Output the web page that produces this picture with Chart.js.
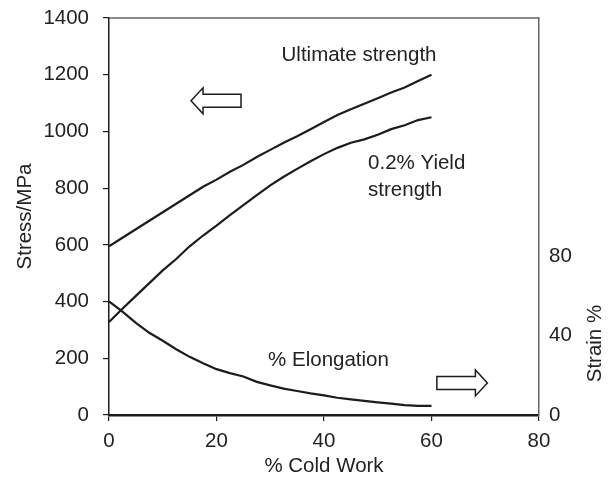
<!DOCTYPE html>
<html>
<head>
<meta charset="utf-8">
<script src="https://cdn.jsdelivr.net/npm/chart.js@4.4.1/dist/chart.umd.min.js"></script>
<style>
  html, body { margin: 0; padding: 0; background: #fff; }
  #wrap { width: 611px; height: 483px; }
</style>
</head>
<body>
<div id="wrap"><canvas id="chart" width="611" height="483"></canvas></div>
<script>
// % cold work (x)
const coldWork = [0, 2.5, 5, 7.5, 10, 12.5, 15, 17.5, 20, 22.5, 25, 27.5, 30,
                  32.5, 35, 37.5, 40, 42.5, 45, 47.5, 50, 52.5, 55, 57.5, 60];

// stress, MPa (left axis)
const ultimateStrength = [595, 625, 655, 685, 715, 745, 775, 805, 830, 858, 882, 910, 935,
                          960, 983, 1008, 1033, 1058, 1078, 1098, 1117, 1137, 1155, 1178, 1200];
const yieldStrength = [328, 375, 420, 465, 510, 550, 595, 633, 668, 705, 740, 775, 810,
                       840, 868, 895, 920, 942, 960, 972, 988, 1008, 1022, 1040, 1050];

// strain % (right axis)
const elongation = [57.3, 52.1, 46.4, 41.4, 37.4, 33.1, 29.3, 26.1, 23.1, 21.1, 19.4, 16.7, 14.9,
                    13.3, 12.1, 10.9, 9.9, 8.7, 7.9, 7.1, 6.4, 5.7, 5.0, 4.6, 4.6];

const strainTicks = [0, 40, 80];

const FONT = '"Liberation Sans", Arial, sans-serif';
const INK = '#222';
const LINE = '#1c1c1c';

Chart.defaults.font.family = FONT;
Chart.defaults.font.size = 20.5;
Chart.defaults.color = INK;

function pts(ys) {
    return coldWork.map((x, i) => ({ x: x, y: ys[i] }));
}

const plain = v => String(v);   // no thousands separator

// labels, arrows, top frame line, right title
const notesPlugin = {
    id: 'notes',
    afterDraw(chart) {
        const { ctx, chartArea, scales } = chart;
        const x = scales.x, y = scales.y, y2 = scales.y2;

        ctx.save();
        // top frame line
        ctx.strokeStyle = '#666';
        ctx.lineWidth = 1.5;
        ctx.beginPath();
        ctx.moveTo(chartArea.left, chartArea.top);
        ctx.lineTo(chartArea.right, chartArea.top);
        ctx.stroke();

        ctx.fillStyle = INK;
        ctx.font = '20.5px ' + FONT;
        ctx.textAlign = 'left';
        ctx.textBaseline = 'alphabetic';
        ctx.fillText('Ultimate strength', x.getPixelForValue(32.1), y.getPixelForValue(1249));
        ctx.fillText('0.2% Yield', x.getPixelForValue(48.2), y.getPixelForValue(868));
        ctx.fillText('strength', x.getPixelForValue(48.2), y.getPixelForValue(774));
        ctx.fillText('% Elongation', x.getPixelForValue(29.6), y.getPixelForValue(172));

        // right axis title
        ctx.save();
        ctx.translate(chart.width - 16, y2.getPixelForValue(36));
        ctx.rotate(-Math.PI / 2);
        ctx.textAlign = 'center';
        ctx.textBaseline = 'middle';
        ctx.fillText('Strain %', 0, 0);
        ctx.restore();

        // hollow arrows
        function arrow(x0, x1, yc, dir) {
            const ym = y.getPixelForValue(yc);
            const tail = x.getPixelForValue(x0);
            const tip = x.getPixelForValue(x1);
            const head = tip - dir * 12;
            ctx.beginPath();
            ctx.moveTo(tail, ym - 6.5);
            ctx.lineTo(head, ym - 6.5);
            ctx.lineTo(head, ym - 13);
            ctx.lineTo(tip, ym);
            ctx.lineTo(head, ym + 13);
            ctx.lineTo(head, ym + 6.5);
            ctx.lineTo(tail, ym + 6.5);
            ctx.closePath();
            ctx.fillStyle = '#fff';
            ctx.fill();
            ctx.strokeStyle = LINE;
            ctx.lineWidth = 1.5;
            ctx.stroke();
        }
        arrow(24.56, 15.26, 1108, -1);
        arrow(61.0, 70.4, 113, 1);

        ctx.restore();
    }
};

new Chart(document.getElementById('chart'), {
    type: 'line',
    data: {
        datasets: [{
            label: 'Ultimate strength',
            data: pts(ultimateStrength),
            yAxisID: 'y',
            borderColor: LINE,
            borderWidth: 2.2,
            pointRadius: 0,
            fill: false
        }, {
            label: '0.2% Yield strength',
            data: pts(yieldStrength),
            yAxisID: 'y',
            borderColor: LINE,
            borderWidth: 2.2,
            pointRadius: 0,
            fill: false
        }, {
            label: '% Elongation',
            data: pts(elongation),
            yAxisID: 'y2',
            borderColor: LINE,
            borderWidth: 2.2,
            pointRadius: 0,
            fill: false
        }]
    },
    options: {
        responsive: false,
        animation: false,
        layout: { padding: { top: 18, left: 0, right: 0, bottom: 0 } },
        plugins: {
            legend: { display: false },
            tooltip: { enabled: false }
        },
        scales: {
            x: {
                type: 'linear',
                min: 0,
                max: 80,
                ticks: { stepSize: 20, padding: 8, maxRotation: 0, callback: plain },
                grid: { drawOnChartArea: false, drawTicks: true, tickLength: 6, color: LINE, lineWidth: 1.2 },
                border: { display: true, color: LINE, width: 2.5 },
                title: { display: true, text: '% Cold Work', padding: { top: 0, bottom: 4 } },
                afterFit(scale) { scale.height = 68; scale.paddingLeft = 0; scale.paddingRight = 0; }
            },
            y: {
                position: 'left',
                min: 0,
                max: 1400,
                ticks: { stepSize: 200, padding: 14, callback: plain },
                grid: { drawOnChartArea: false, drawTicks: true, tickLength: 6, color: LINE, lineWidth: 1.2 },
                border: { display: true, color: LINE, width: 1.5 },
                title: { display: true, text: 'Stress/MPa', padding: { top: 13, bottom: 0 } },
                afterFit(scale) { scale.width = 109; scale.paddingTop = 0; scale.paddingBottom = 0; }
            },
            y2: {
                position: 'right',
                min: 0,
                max: 200,
                afterBuildTicks(scale) { scale.ticks = strainTicks.map(v => ({ value: v })); },
                ticks: { padding: 10, callback: plain },
                grid: { display: false, drawTicks: false },
                border: { display: true, color: '#666', width: 1.5 },
                afterFit(scale) { scale.width = 72; scale.paddingTop = 0; scale.paddingBottom = 0; }
            }
        }
    },
    plugins: [notesPlugin]
});
</script>
</body>
</html>
